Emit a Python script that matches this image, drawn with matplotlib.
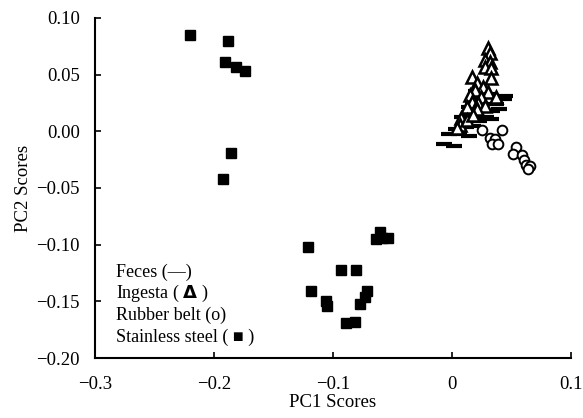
import matplotlib
matplotlib.use("Agg")
import matplotlib.pyplot as plt

plt.rcParams['font.family'] = ['Liberation Serif', 'DejaVu Sans']

# PCA scores (PC1, PC2) per surface type
steel_pc1 = [-0.220, -0.188, -0.1905, -0.1815, -0.174, -0.1857, -0.192,
             -0.0605, -0.0639, -0.0588, -0.0538, -0.1213, -0.0933, -0.0807,
             -0.1182, -0.0712, -0.1057, -0.1053, -0.0731, -0.0773, -0.0891, -0.0813]
steel_pc2 = [0.085, 0.080, 0.0614, 0.057, 0.0535, -0.0194, -0.0418,
             -0.0889, -0.095, -0.0942, -0.0942, -0.1021, -0.1224, -0.1227,
             -0.141, -0.141, -0.150, -0.1545, -0.146, -0.1524, -0.1695, -0.1686]

ingesta_pc1 = [0.0305, 0.0319, 0.0277, 0.0319, 0.0283, 0.0328, 0.0166, 0.0333,
               0.0208, 0.0263, 0.0193, 0.0305, 0.0151, 0.0249, 0.0375, 0.0166,
               0.0221, 0.0277, 0.0124, 0.0208, 0.0081, 0.0067, 0.0124, 0.0176, 0.0042]
ingesta_pc2 = [0.0733, 0.0688, 0.0629, 0.0614, 0.0565, 0.0556, 0.0482, 0.0473,
               0.0424, 0.0394, 0.0365, 0.0350, 0.0320, 0.0305, 0.0305, 0.0261,
               0.0247, 0.0226, 0.0217, 0.0197, 0.0115, 0.0056, 0.0100, 0.0144, 0.0029]

feces_pc1 = [0.0445, 0.0439, 0.0397, 0.0341, 0.0328, 0.0286, 0.0229, 0.0174,
             0.0118, 0.0034, -0.0023, 0.0061, 0.0145, -0.0065, 0.0019, 0.0145,
             0.0174, 0.0202, 0.0145, 0.0089, 0.0257, 0.0299, 0.0202, 0.0370, 0.0244]
feces_pc2 = [0.0312, 0.0285, 0.0197, 0.0182, 0.0109, 0.0124, 0.0094, 0.0049,
             0.0035, 0.0020, -0.0024, -0.0024, -0.0039, -0.0112, -0.0127, 0.0212,
             0.0241, 0.0270, 0.0138, 0.0124, 0.0300, 0.0329, 0.0358, 0.0241, 0.0197]

belt_pc1 = [0.0250, 0.0426, 0.0325, 0.0361, 0.0342, 0.0389, 0.0543,
            0.0515, 0.0586, 0.0605, 0.0627, 0.0655, 0.0641]
belt_pc2 = [0.0012, 0.0012, -0.0056, -0.0068, -0.0115, -0.0115, -0.0141,
            -0.0203, -0.0209, -0.0253, -0.0297, -0.0304, -0.0333]

legend_lines = ["Feces (\u2014)", "Ingesta ( $\\mathbf{\\Delta}$ )",
                "Rubber belt (o)", "Stainless steel ( \u25a0 )"]

fig = plt.figure(figsize=(5.83, 4.18), dpi=100)
ax = fig.add_axes([0.163, 0.1435, 0.816, 0.8135])

ax.plot(feces_pc1, feces_pc2, ls='none', marker='_', ms=12, mew=3, color='black')
ax.plot(ingesta_pc1, ingesta_pc2, ls='none', marker='^', ms=9, mew=1.8,
        mfc='white', mec='black')
ax.plot(belt_pc1, belt_pc2, ls='none', marker='o', ms=7, mew=1.4,
        mfc='white', mec='black')
ax.plot(steel_pc1, steel_pc2, ls='none', marker='s', ms=7, color='black')

ax.set_xlim(-0.3, 0.1)
ax.set_ylim(-0.2, 0.1)
ax.set_xticks([-0.3, -0.2, -0.1, 0, 0.1])
ax.set_xticklabels(['\u22120.3', '\u22120.2', '\u22120.1', '0', '0.1'])
ax.set_yticks([-0.2, -0.15, -0.1, -0.05, 0, 0.05, 0.1])
ax.set_yticklabels(['\u22120.20', '\u22120.15', '\u22120.10', '\u22120.05',
                    '0.00', '0.05', '0.10'])
ax.tick_params(direction='in', length=4, width=1.2, labelsize=13.5)
ax.tick_params(axis='x', pad=13)
ax.tick_params(axis='y', pad=11)
for s in ['top', 'right']:
    ax.spines[s].set_visible(False)
for s in ['left', 'bottom']:
    ax.spines[s].set_linewidth(1.5)

ax.set_xlabel('PC1 Scores', fontsize=13.5, labelpad=1)
ax.set_ylabel('PC2 Scores', fontsize=13.5, labelpad=3)

for i, t in enumerate(legend_lines):
    ax.text(0.045, 0.253 - i * 0.064, t, transform=ax.transAxes, fontsize=13,
            va='center', ha='left')

fig.savefig('out.png', dpi=100)
